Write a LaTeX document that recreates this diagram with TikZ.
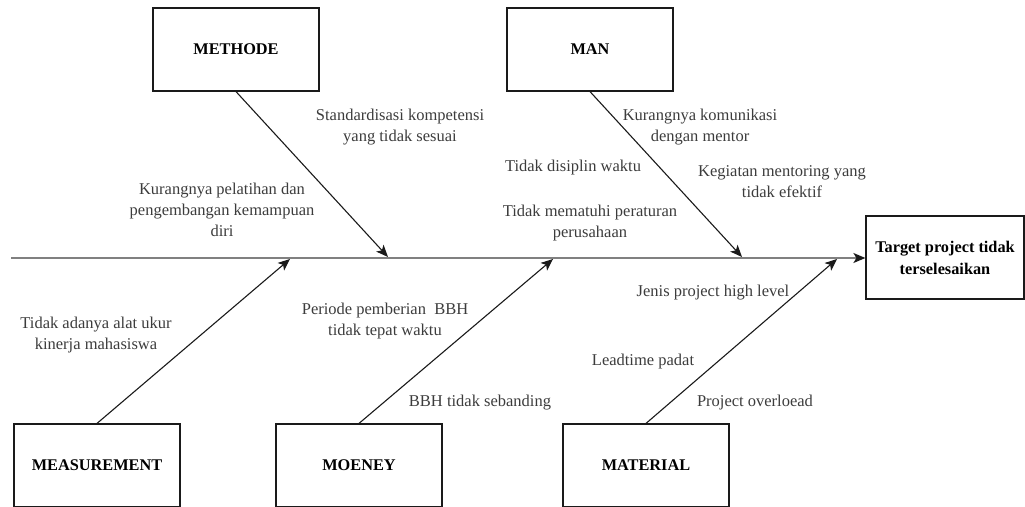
\documentclass[tikz,border=0pt]{standalone}
\usepackage{fontspec}
\setmainfont{Liberation Serif}
\usetikzlibrary{arrows.meta}
\definecolor{spinegray}{HTML}{808080}
\definecolor{inkdark}{HTML}{1A1A1A}
\tikzset{
  catbox/.style={draw=inkdark, line width=1.2pt, minimum width=166pt, minimum height=83pt, inner sep=0pt, font=\fontsize{16.3}{22}\selectfont\bfseries},
  goalbox/.style={draw=inkdark, line width=1.2pt, minimum width=158pt, minimum height=83pt, inner sep=0pt, align=center, font=\fontsize{16.3}{22}\selectfont\bfseries},
  bone/.style={draw=inkdark, line width=1.1pt, -{Stealth[length=12pt,width=10pt,inset=3pt]}},
  spineline/.style={draw=spinegray, line width=1.6pt, -{Stealth[length=12pt,width=10pt,inset=3pt,inkdark]}},
  cause/.style={align=center, inner sep=0pt, text=inkdark!85!white, font=\fontsize{16.5}{21}\selectfont}
}
\begin{document}
\begin{tikzpicture}[x=1pt,y=-1pt]
\useasboundingbox (0,0) rectangle (1025,506);
% boxes
\node[catbox] (methode) at (236,49.5) {METHODE};
\node[catbox] (man) at (590,49.5) {MAN};
\node[catbox] (meas) at (97,465.5) {MEASUREMENT};
\node[catbox] (money) at (359,465.5) {MOENEY};
\node[catbox] (material) at (646,465.5) {MATERIAL};
\node[goalbox] (target) at (945,257.5) {Target project tidak\\terselesaikan};
% spine
\coordinate (s0) at (11,258);
\draw[spineline] (s0) -- (s0 -| target.west);
% bone ends
\coordinate (m1) at (388,257);
\coordinate (m2) at (742,257);
\coordinate (b1) at (290,259);
\coordinate (b2) at (553,259);
\coordinate (b3) at (837,259);
\draw[bone] (methode.south) -- (m1);
\draw[bone] (man.south) -- (m2);
\draw[bone] (meas.north) -- (b1);
\draw[bone] (money.north) -- (b2);
\draw[bone] (material.north) -- (b3);
% causes
\node[cause] (std) at (400,127) {Standardisasi kompetensi\\yang tidak sesuai};
\node[cause] (kpel) at (222,210) {Kurangnya pelatihan dan\\pengembangan kemampuan\\diri};
\node[cause] (kkom) at (700,127) {Kurangnya komunikasi\\dengan mentor};
\node[cause] (tdw) at (573,168) {Tidak disiplin waktu};
\node[cause] (kgm) at (782,182) {Kegiatan mentoring yang\\tidak efektif};
\node[cause] (tmp) at (590,223) {Tidak mematuhi peraturan\\perusahaan};
\node[cause] (tad) at (96,335) {Tidak adanya alat ukur\\kinerja mahasiswa};
\node[cause] (ppb) at (385,321) {Periode pemberian~ BBH\\tidak tepat waktu};
\node[cause] (bbh) at (480,403) {BBH tidak sebanding};
\node[cause] (jph) at (713,293) {Jenis project high level};
\node[cause] (lp) at (643,362) {Leadtime padat};
\node[cause] (po) at (755,403) {Project overloead};
\end{tikzpicture}
\end{document}
